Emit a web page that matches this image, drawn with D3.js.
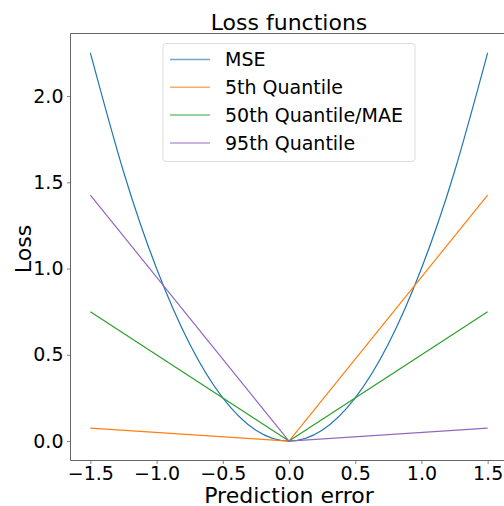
<!DOCTYPE html>
<html lang="en">
<head>
  <meta charset="UTF-8">
  <title>Loss functions</title>
  <script src="https://d3js.org/d3.v7.min.js"></script>
  <style>
    body { margin: 0; background: #fff; }
    svg { font-family: "DejaVu Sans", sans-serif; }
  </style>
</head>
<body>
  <script>
    var width = 504;
    var height = 506;

    // data
    var mseX = [-1.5, -1.25, -1.0, -0.75, -0.5, -0.25, 0, 0.25, 0.5, 0.75, 1.0, 1.25, 1.5];
    var mseY = [2.25, 1.5625, 1.0, 0.5625, 0.25, 0.0625, 0, 0.0625, 0.25, 0.5625, 1.0, 1.5625, 2.25];
    var qX = [-1.5, 0, 1.5];
    var q05Y = [0.075, 0, 1.425];
    var q50Y = [0.75, 0, 0.75];
    var q95Y = [1.425, 0, 0.075];
    var seriesNames = ['MSE', '5th Quantile', '50th Quantile/MAE', '95th Quantile'];
    var seriesColors = ['#1f77b4', '#ff7f0e', '#2ca02c', '#9467bd'];
    var xTicks = [-1.5, -1.0, -0.5, 0.0, 0.5, 1.0, 1.5];
    var yTicks = [0.0, 0.5, 1.0, 1.5, 2.0];

    var plot = { left: 70.5, right: 507.5, top: 33.5, bottom: 460.5 };

    var svg = d3.select('body')
      .append('svg')
      .attr('width', width)
      .attr('height', height);

    var x = d3.scaleLinear().domain([-1.65, 1.65]).range([plot.left, plot.right]);
    var y = d3.scaleLinear().domain([-0.1125, 2.3625]).range([plot.bottom, plot.top]);

    function fmt(d) {
      return d3.format('.1f')(d).replace('-', '\u2212');
    }

    var line = d3.line()
      .x(function (d) { return x(d[0]); })
      .y(function (d) { return y(d[1]); });

    var series = [
      { pts: d3.zip(mseX, mseY), curve: d3.curveNatural },
      { pts: d3.zip(qX, q05Y), curve: d3.curveLinear },
      { pts: d3.zip(qX, q50Y), curve: d3.curveLinear },
      { pts: d3.zip(qX, q95Y), curve: d3.curveLinear }
    ];

    svg.append('g')
      .selectAll('path')
      .data(series)
      .enter()
      .append('path')
      .attr('fill', 'none')
      .attr('stroke', function (d, i) { return seriesColors[i]; })
      .attr('stroke-width', 1.2)
      .attr('d', function (d) { return line.curve(d.curve)(d.pts); });

    // axes
    var xAxis = svg.append('g')
      .attr('transform', 'translate(0,' + plot.bottom + ')')
      .call(d3.axisBottom(x).tickValues(xTicks).tickFormat(fmt).tickSize(3.5).tickPadding(3));
    var yAxis = svg.append('g')
      .attr('transform', 'translate(' + plot.left + ',0)')
      .call(d3.axisLeft(y).tickValues(yTicks).tickFormat(fmt).tickSize(3.5).tickPadding(3.5));

    [xAxis, yAxis].forEach(function (a) {
      a.select('.domain').remove();
      a.selectAll('line').attr('stroke', '#666').attr('stroke-width', 0.8);
      a.selectAll('text')
        .attr('fill', '#000')
        .attr('font-size', '19px')
        .attr('font-family', '"DejaVu Sans", sans-serif');
    });

    // spines
    svg.append('path')
      .attr('fill', 'none')
      .attr('stroke', '#666')
      .attr('stroke-width', 1)
      .attr('d', 'M' + plot.right + ',' + plot.top + 'H' + plot.left + 'V' + plot.bottom + 'H' + plot.right);

    // title and labels
    svg.append('text')
      .attr('x', 289)
      .attr('y', 30)
      .attr('text-anchor', 'middle')
      .attr('font-size', '22px')
      .text('Loss functions');

    svg.append('text')
      .attr('x', 289)
      .attr('y', 502.5)
      .attr('text-anchor', 'middle')
      .attr('font-size', '22px')
      .text('Prediction error');

    svg.append('text')
      .attr('transform', 'translate(30.5,249) rotate(-90)')
      .attr('text-anchor', 'middle')
      .attr('font-size', '22px')
      .text('Loss');

    // legend
    var legend = svg.append('g').attr('transform', 'translate(163,43.5)');
    legend.append('rect')
      .attr('width', 252)
      .attr('height', 118)
      .attr('rx', 3)
      .attr('fill', '#fff')
      .attr('fill-opacity', 0.8)
      .attr('stroke', '#ddd')
      .attr('stroke-width', 1);

    var item = legend.selectAll('.item')
      .data(seriesNames)
      .enter()
      .append('g')
      .attr('transform', function (d, i) { return 'translate(0,' + (16 + i * 27.8) + ')'; });
    item.append('line')
      .attr('x1', 7).attr('x2', 47)
      .attr('stroke', function (d, i) { return seriesColors[i]; })
      .attr('stroke-opacity', 0.65)
      .attr('stroke-width', 1.5);
    item.append('text')
      .attr('x', 62)
      .attr('dy', '0.35em')
      .attr('font-size', '19px')
      .text(function (d) { return d; });
  </script>
</body>
</html>
